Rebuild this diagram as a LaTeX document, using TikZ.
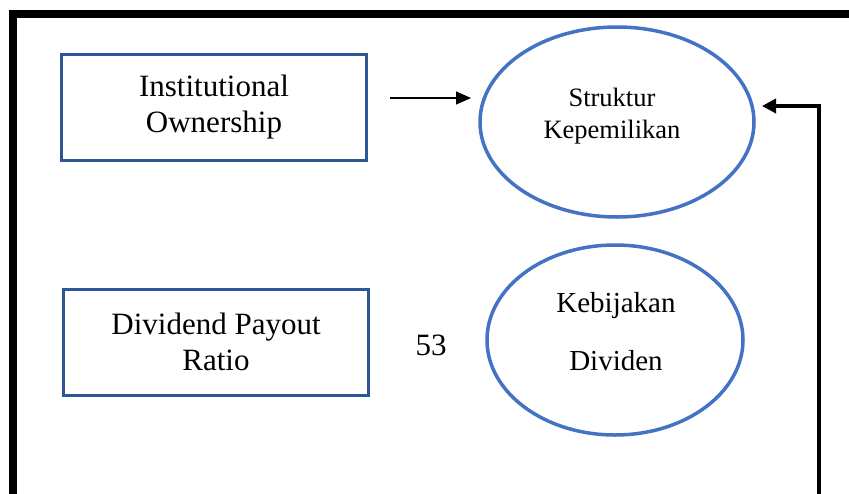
\documentclass[tikz,border=0pt]{standalone}
\usepackage{fontspec}
\setmainfont{Liberation Serif}
\usetikzlibrary{shapes.geometric,arrows.meta}

\definecolor{boxblue}{RGB}{47,85,151}
\definecolor{ovalblue}{RGB}{68,114,196}

\begin{document}
\begin{tikzpicture}[
        x=1pt, y=-1pt,
        % variable box: blue frame, white fill
        varbox/.style={
            rectangle,
            draw=boxblue,
            line width=3pt,
            fill=white,
            minimum width=305pt,
            minimum height=106pt,
            align=center,
            font=\fontsize{31}{36}\selectfont
        },
        % construct oval
        construct/.style={
            ellipse,
            draw=ovalblue,
            line width=3.5pt,
            inner sep=0pt
        },
        % text inside an oval
        oval_text/.style={
            align=center,
            inner sep=0pt
        },
        % connector styles
        thin_arrow/.style={
            draw, black, line width=1.2pt,
            -{Triangle[length=15pt,width=13pt]}
        },
        thick_arrow/.style={
            draw, black, line width=4pt,
            -{Triangle[length=14pt,width=14pt]}
        },
        % outer frame
        frame_line/.style={
            draw, black, line width=8pt
        }
    ]

    \useasboundingbox (0,0) rectangle (849,493);

    % --- frame ---
    \coordinate (framebottom) at (13,500);
    \coordinate (framecorner) at (13,14);
    \coordinate (frameright) at (860,14);
    \draw[frame_line] (framebottom) -- (framecorner) -- (frameright);

    % --- left column: variables ---
    \node[varbox] (inst) at (214,107) {Institutional\\Ownership};
    \node[varbox] (dpr) at (216,342) {Dividend Payout\\Ratio};

    % --- right column: constructs ---
    \node[construct, minimum width=274pt, minimum height=190pt] (struktur) at (617,122) {};
    \node[oval_text, font=\fontsize{26.5}{32}\selectfont] (strukturtext) at (612,116) {Struktur\\Kepemilikan};

    \node[construct, minimum width=256pt, minimum height=190pt] (kebijakan) at (615,340) {};
    \node[oval_text, font=\fontsize{29}{58}\selectfont] (kebijakantext) at (616,332) {Kebijakan\\Dividen};

    % page number left in the figure
    \node[font=\fontsize{31}{36}\selectfont, inner sep=0pt] (pagenum) at (431,345) {53};

    % --- connectors ---
    \coordinate (instarrowstart) at (390,98);
    \coordinate (instarrowend) at (471,98);
    \draw[thin_arrow] (instarrowstart) -- (instarrowend);

    \coordinate (loopbottom) at (819,500);
    \coordinate (looptip) at (762,106);
    \draw[thick_arrow] (loopbottom) |- (looptip);

\end{tikzpicture}
\end{document}
